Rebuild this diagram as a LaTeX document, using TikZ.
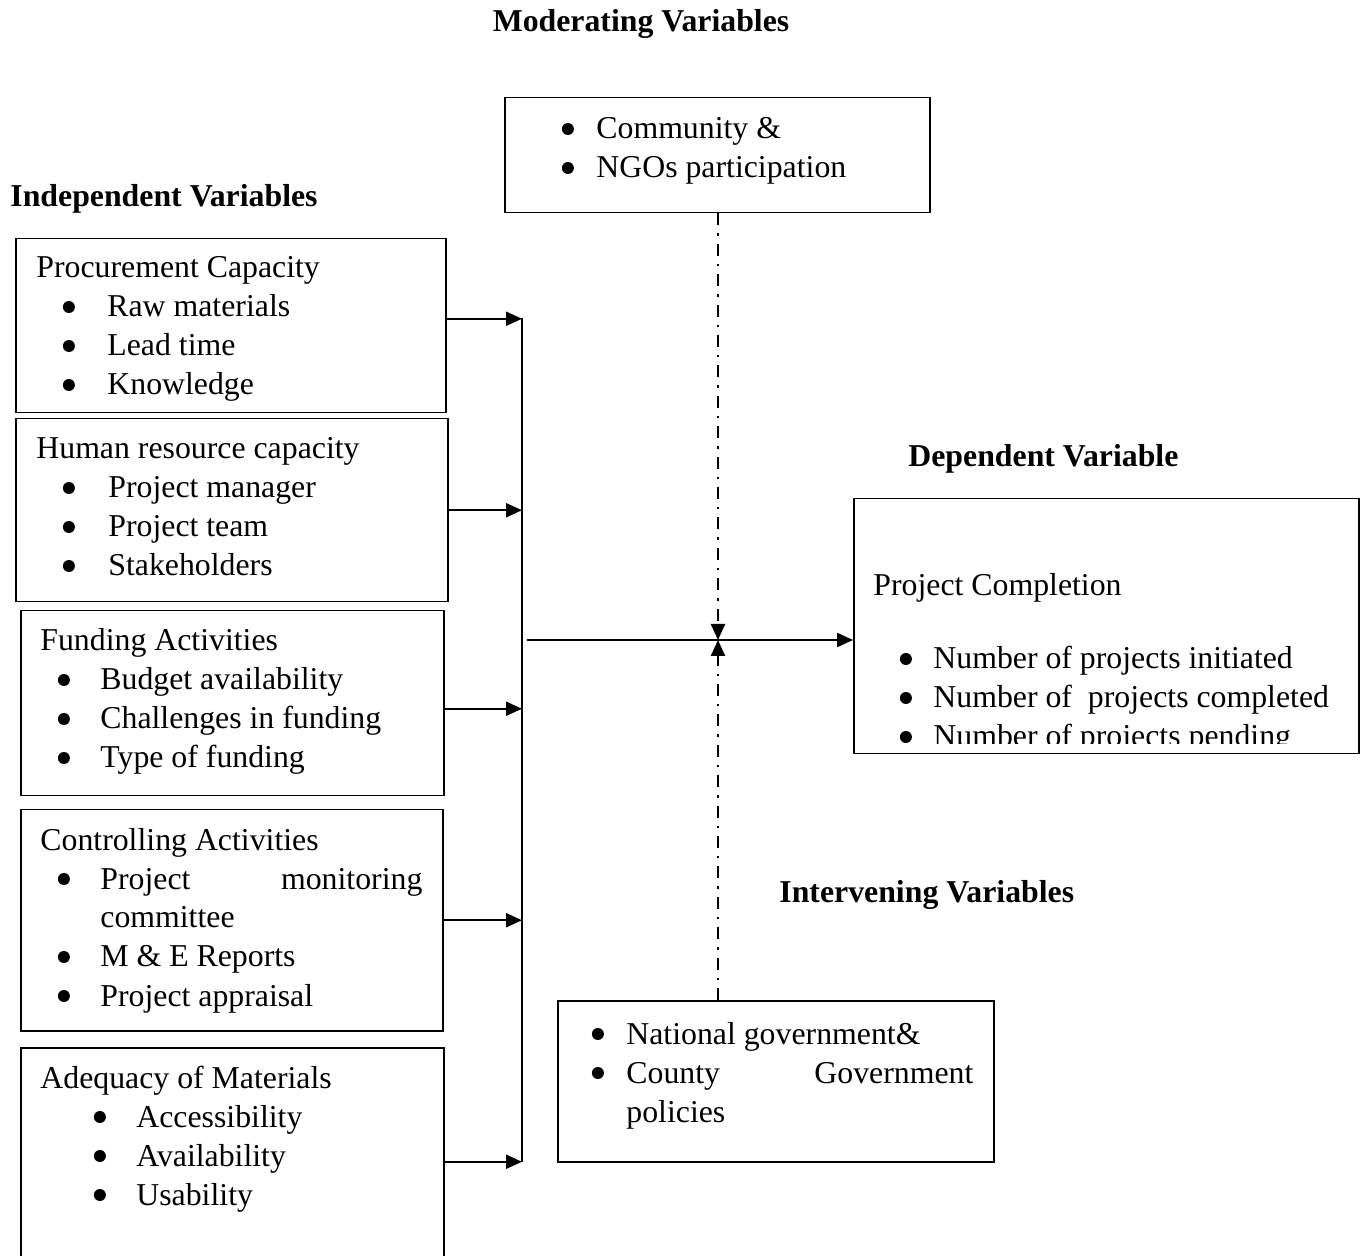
\documentclass[tikz,border=0pt]{standalone}
\usepackage{fontspec}
\setmainfont{Liberation Serif}
\usetikzlibrary{arrows.meta, calc}
\newcommand{\bodyfont}{\fontsize{15.9}{19.5}\selectfont}
% round bullet mark, drawn
\newcommand{\dotmark}{\tikz[baseline=-5pt]\fill (0pt,0pt) circle (3pt);}
% bullet with indent before it and room after it
\newcommand{\bl}[2]{\hspace*{#1}\makebox[#2][l]{\hspace*{0.5pt}\dotmark}}

\begin{document}
\begin{tikzpicture}[
    x=0.5pt, y=-0.5pt,
    box/.style={draw, line width=0.75pt, inner sep=0pt, anchor=north west},
    txt/.style={inner sep=0pt, anchor=base west, font=\bodyfont},
    title/.style={inner sep=0pt, anchor=base west, font=\bodyfont\bfseries},
    link/.style={line width=1.1pt, -{Triangle[length=8pt, width=7pt]}},
    modline/.style={line width=1.2pt, dash pattern=on 6pt off 4pt on 1.2pt off 4pt,
        -{Triangle[length=8pt, width=7pt]}},
]
\useasboundingbox (0,0) rectangle (1361,1256);

% =============================================
% Titles
% =============================================
\node[title, anchor=base] (modH) at (641,32) {Moderating Variables};
\node[title] (indH) at (10,207) {Independent Variables};
\node[title] (depH) at (908,467) {Dependent Variable};
\node[title] (intH) at (779,902) {Intervening Variables};

% =============================================
% Independent variables (left column)
% =============================================
\node[box, minimum width=215pt, minimum height=87pt] (proc) at (15,238) {};
\node[txt] (procT) at (36,278) {\begin{tabular}[t]{@{}l@{}}
  Procurement Capacity\\
  \bl{12.75pt}{22.75pt}Raw materials\\
  \bl{12.75pt}{22.75pt}Lead time\\
  \bl{12.75pt}{22.75pt}Knowledge
\end{tabular}};

\node[box, minimum width=216pt, minimum height=91.5pt] (hr) at (15,418) {};
\node[txt] (hrT) at (36,459) {\begin{tabular}[t]{@{}l@{}}
  Human resource capacity\\
  \bl{12.75pt}{23.25pt}Project manager\\
  \bl{12.75pt}{23.25pt}Project team\\
  \bl{12.75pt}{23.25pt}Stakeholders
\end{tabular}};

\node[box, minimum width=211.5pt, minimum height=92.5pt] (fund) at (20,610) {};
\node[txt] (fundT) at (40,651) {\begin{tabular}[t]{@{}l@{}}
  Funding Activities\\
  \bl{8.25pt}{21.75pt}Budget availability\\
  \bl{8.25pt}{21.75pt}Challenges in funding\\
  \bl{8.25pt}{21.75pt}Type of funding
\end{tabular}};

\node[box, minimum width=211pt, minimum height=110.5pt] (ctrl) at (20,809) {};
\node[txt] (ctrlT) at (40,850) {\begin{tabular}[t]{@{}l@{}}
  Controlling Activities\\
  \bl{8.25pt}{21.75pt}\makebox[161pt][s]{Project\hfill monitoring}\\
  \hspace*{30pt}committee\\
  \bl{8.25pt}{21.75pt}M \& E Reports\\
  \bl{8.25pt}{21.75pt}Project appraisal
\end{tabular}};

\node[box, minimum width=211.5pt, minimum height=114pt] (adeq) at (20,1047) {};
\node[txt] (adeqT) at (40,1088) {\begin{tabular}[t]{@{}l@{}}
  Adequacy of Materials\\
  \bl{26.25pt}{21.75pt}Accessibility\\
  \bl{26.25pt}{21.75pt}Availability\\
  \bl{26.25pt}{21.75pt}Usability
\end{tabular}};

% =============================================
% Moderating, dependent and intervening boxes
% =============================================
\node[box, minimum width=212.5pt, minimum height=57.5pt] (mod) at (504,97) {};
\node[txt] (modT) at (560.5,139) {\begin{tabular}[t]{@{}l@{}}
  \bl{0pt}{17.75pt}Community \&\\
  \bl{0pt}{17.75pt}NGOs participation
\end{tabular}};

\node[box, minimum width=252.5pt, minimum height=127.5pt] (dep) at (853,498) {};
\begin{scope}
  \clip (853,498) rectangle (1358,744);
  \node[txt] (depT) at (873,596) {\begin{tabular}[t]{@{}l@{}}
    Project Completion\\[17pt]
    \bl{12.75pt}{17.25pt}Number of projects initiated\\
    \bl{12.75pt}{17.25pt}Number of \ projects completed\\
    \bl{12.75pt}{17.25pt}Number of projects pending
  \end{tabular}};
\end{scope}

\node[box, minimum width=218pt, minimum height=80.5pt] (intv) at (557,1000) {};
\node[txt] (intvT) at (590.5,1044) {\begin{tabular}[t]{@{}l@{}}
  \bl{0pt}{17.75pt}National government\&\\
  \bl{0pt}{17.75pt}\makebox[173.5pt][s]{County\hfill Government}\\
  \hspace*{17.75pt}policies
\end{tabular}};

% =============================================
% Connectors
% =============================================
\coordinate (busTop) at (522,318);
\coordinate (busBot) at (522,1162);
\coordinate (hub) at (718,640);
\coordinate (busOut) at (527,640);

\draw[line width=1.1pt] (busTop) -- (busBot);

\draw[link] ([yshift=3.5pt]proc.east) -- ([yshift=3.5pt]proc.east -| busTop);
\draw[link] (hr.east) -- (hr.east -| busTop);
\draw[link] ([yshift=-2.75pt]fund.east) -- ([yshift=-2.75pt]fund.east -| busTop);
\draw[link] (ctrl.east) -- (ctrl.east -| busTop);
\draw[link] (adeq.east) -- (adeq.east -| busTop);

\draw[link] (busOut) -- (busOut -| dep.west);

% moderating and intervening influences
\draw[modline] (hub |- mod.south) -- (hub);
\draw[modline] (hub |- intv.north) -- (hub);

\end{tikzpicture}
\end{document}
